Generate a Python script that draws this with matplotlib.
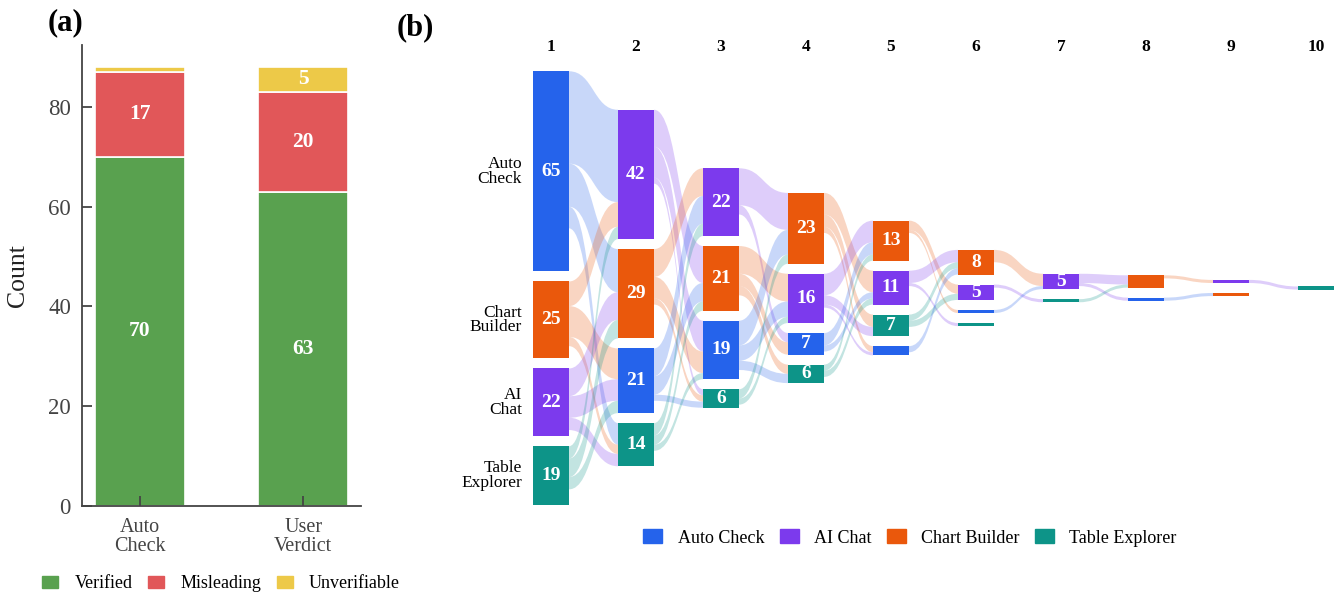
import matplotlib
matplotlib.use("Agg")
import matplotlib.pyplot as plt
from matplotlib.path import Path
from matplotlib.patches import PathPatch, Rectangle, Patch

plt.rcParams['font.family'] = ['Liberation Serif', 'DejaVu Serif']

# ---------------- data: panel (a) ----------------
verdict_sources = ["Auto\nCheck", "User\nVerdict"]
verified = [70, 63]
misleading = [17, 20]
unverifiable = [1, 5]
verdict_labels = ["Verified", "Misleading", "Unverifiable"]
verdict_colors = ["#59A14F", "#E15759", "#EDC948"]

# ---------------- data: panel (b) ----------------
tools = ["Auto Check", "AI Chat", "Chart Builder", "Table Explorer"]
tool_colors = {"Auto Check": "#2563EB", "AI Chat": "#7C3AED",
               "Chart Builder": "#EA580C", "Table Explorer": "#0D9488"}
tool_short = {"Auto Check": "Auto\nCheck", "AI Chat": "AI\nChat",
              "Chart Builder": "Chart\nBuilder", "Table Explorer": "Table\nExplorer"}

step_numbers = [1, 2, 3, 4, 5, 6, 7, 8, 9, 10]
step1 = [("Auto Check", 65), ("Chart Builder", 25), ("AI Chat", 22), ("Table Explorer", 19)]
step2 = [("AI Chat", 42), ("Chart Builder", 29), ("Auto Check", 21), ("Table Explorer", 14)]
step3 = [("AI Chat", 22), ("Chart Builder", 21), ("Auto Check", 19), ("Table Explorer", 6)]
step4 = [("Chart Builder", 23), ("AI Chat", 16), ("Auto Check", 7), ("Table Explorer", 6)]
step5 = [("Chart Builder", 13), ("AI Chat", 11), ("Table Explorer", 7), ("Auto Check", 3)]
step6 = [("Chart Builder", 8), ("AI Chat", 5), ("Auto Check", 1), ("Table Explorer", 1)]
step7 = [("AI Chat", 5), ("Table Explorer", 1)]
step8 = [("Chart Builder", 4), ("Auto Check", 1)]
step9 = [("AI Chat", 1), ("Chart Builder", 1)]
step10 = [("Table Explorer", 1)]
steps = [step1, step2, step3, step4, step5, step6, step7, step8, step9, step10]

# transitions (source tool -> target tool, count) between consecutive steps
flows_1_2 = [("Auto Check", "AI Chat", 30), ("Auto Check", "Chart Builder", 14), ("Auto Check", "Table Explorer", 7),
             ("Chart Builder", "AI Chat", 8), ("Chart Builder", "Auto Check", 10), ("Chart Builder", "Table Explorer", 3),
             ("AI Chat", "Chart Builder", 9), ("AI Chat", "Auto Check", 7), ("AI Chat", "Table Explorer", 4),
             ("Table Explorer", "AI Chat", 4), ("Table Explorer", "Chart Builder", 6), ("Table Explorer", "Auto Check", 4)]
flows_2_3 = [("AI Chat", "Chart Builder", 12), ("AI Chat", "Auto Check", 10), ("AI Chat", "Table Explorer", 2),
             ("Chart Builder", "AI Chat", 9), ("Chart Builder", "Auto Check", 7), ("Chart Builder", "Table Explorer", 2),
             ("Auto Check", "AI Chat", 9), ("Auto Check", "Chart Builder", 6), ("Auto Check", "Table Explorer", 2),
             ("Table Explorer", "AI Chat", 4), ("Table Explorer", "Chart Builder", 3), ("Table Explorer", "Auto Check", 2)]
flows_3_4 = [("AI Chat", "Chart Builder", 12), ("AI Chat", "Auto Check", 3),
             ("Chart Builder", "AI Chat", 9), ("Chart Builder", "Auto Check", 4), ("Chart Builder", "Table Explorer", 3),
             ("Auto Check", "Chart Builder", 8), ("Auto Check", "AI Chat", 5), ("Auto Check", "Table Explorer", 3),
             ("Table Explorer", "Chart Builder", 3), ("Table Explorer", "AI Chat", 2)]
flows_4_5 = [("Chart Builder", "AI Chat", 7), ("Chart Builder", "Table Explorer", 4), ("Chart Builder", "Auto Check", 2),
             ("AI Chat", "Chart Builder", 7), ("AI Chat", "Table Explorer", 3), ("AI Chat", "Auto Check", 1),
             ("Auto Check", "Chart Builder", 4), ("Auto Check", "AI Chat", 2),
             ("Table Explorer", "Chart Builder", 2), ("Table Explorer", "AI Chat", 2)]
flows_5_6 = [("Chart Builder", "AI Chat", 3), ("Chart Builder", "Auto Check", 1),
             ("AI Chat", "Chart Builder", 4), ("AI Chat", "Table Explorer", 1),
             ("Table Explorer", "Chart Builder", 2), ("Table Explorer", "AI Chat", 2),
             ("Auto Check", "Chart Builder", 2)]
flows_6_7 = [("Chart Builder", "AI Chat", 4), ("AI Chat", "Table Explorer", 1), ("Auto Check", "AI Chat", 1)]
flows_7_8 = [("AI Chat", "Chart Builder", 3), ("AI Chat", "Auto Check", 1), ("Table Explorer", "Chart Builder", 1)]
flows_8_9 = [("Chart Builder", "AI Chat", 1), ("Auto Check", "Chart Builder", 1)]
flows_9_10 = [("AI Chat", "Table Explorer", 1)]
transitions = [flows_1_2, flows_2_3, flows_3_4, flows_4_5, flows_5_6,
               flows_6_7, flows_7_8, flows_8_9, flows_9_10]

# ---------------- figure ----------------
W, H = 1336, 595
fig = plt.figure(figsize=(W / 100, H / 100), dpi=100)

# ---- panel (a)
ax = fig.add_axes([82 / W, (H - 506) / H, (361 - 82) / W, (506 - 45) / H])
xs = list(range(len(verdict_sources)))
bottom = [0] * len(xs)
for vals, lab, col in zip([verified, misleading, unverifiable], verdict_labels, verdict_colors):
    ax.bar(xs, vals, width=0.55, bottom=bottom, color=col, edgecolor="white",
           linewidth=1.2, label=lab)
    for x, v, b in zip(xs, vals, bottom):
        if v >= 3:
            ax.text(x, b + v / 2, str(v), ha="center", va="center", color="white",
                    fontsize=15.5, fontweight="bold")
    bottom = [b + v for b, v in zip(bottom, vals)]
ax.set_xticks(xs)
ax.set_xticklabels(verdict_sources, linespacing=0.95)
ax.set_yticks([0, 20, 40, 60, 80])
for s in ["top", "right"]:
    ax.spines[s].set_visible(False)
for s in ["left", "bottom"]:
    ax.spines[s].set_color("#444444")
    ax.spines[s].set_linewidth(1.3)
ax.tick_params(direction="in", length=7, width=1.3, color="#444444", labelcolor="#444444")
ax.tick_params(axis="x", labelsize=14.5, pad=9)
ax.tick_params(axis="y", labelsize=16.5, pad=8)
ax.set_ylabel("Count", fontsize=18.5, color="#222222", labelpad=14)
handles_a = [Patch(color=c, label=l) for c, l in zip(verdict_colors, verdict_labels)]
fig.legend(handles=handles_a, loc="center", bbox_to_anchor=(221 / W, 1 - 584 / H),
           ncol=3, frameon=False, fontsize=13, handlelength=0.9, handleheight=0.65,
           columnspacing=0.85, handletextpad=0.9)

fig.text(48 / W, 1 - 23 / H, "(a)", fontsize=22, fontweight="bold", ha="left", va="center")
fig.text(397 / W, 1 - 28 / H, "(b)", fontsize=22, fontweight="bold", ha="left", va="center")

# ---- panel (b): sankey
px_per_unit = 3.08
x0_px, col_step_px = 551, 85
axb_left, axb_right, axb_top, axb_bot = 470, 1336, 30, 560
center_px = 288
axb = fig.add_axes([axb_left / W, (H - axb_bot) / H, (axb_right - axb_left) / W, (axb_bot - axb_top) / H])
axb.set_xlim(1 - (x0_px - axb_left) / col_step_px, 1 + (axb_right - x0_px) / col_step_px)
axb.set_ylim(-(axb_bot - center_px) / px_per_unit, (center_px - axb_top) / px_per_unit)
axb.axis("off")

gap = 10 / px_per_unit
half_w = 18 / col_step_px

# node layout
node_pos = []  # per column: dict tool -> (top, bottom)
for ci, nodes in enumerate(steps):
    total = sum(v for _, v in nodes) + gap * (len(nodes) - 1)
    y = total / 2
    pos = {}
    for name, v in nodes:
        pos[name] = (y, y - v)
        y -= v + gap
    node_pos.append(pos)

# flows
for ti, flows in enumerate(transitions):
    src_pos, tgt_pos = node_pos[ti], node_pos[ti + 1]
    src_order = [n for n, _ in steps[ti]]
    tgt_order = [n for n, _ in steps[ti + 1]]
    out_off = {n: src_pos[n][0] for n in src_order}
    in_off = {n: tgt_pos[n][0] for n in tgt_order}
    s_ranges = {}
    for s in src_order:
        for t in tgt_order:
            for (a, b, v) in flows:
                if a == s and b == t:
                    s_ranges[(a, b)] = (out_off[s], out_off[s] - v)
                    out_off[s] -= v
    t_ranges = {}
    for t in tgt_order:
        for s in src_order:
            for (a, b, v) in flows:
                if a == s and b == t:
                    t_ranges[(a, b)] = (in_off[t], in_off[t] - v)
                    in_off[t] -= v
    xs_ = (ti + 1) + half_w
    xt_ = (ti + 2) - half_w
    xm = (xs_ + xt_) / 2
    for (a, b, v) in flows:
        s0, s1 = s_ranges[(a, b)]
        t0, t1 = t_ranges[(a, b)]
        verts = [(xs_, s0), (xm, s0), (xm, t0), (xt_, t0),
                 (xt_, t1), (xm, t1), (xm, s1), (xs_, s1), (xs_, s0)]
        codes = [Path.MOVETO, Path.CURVE4, Path.CURVE4, Path.CURVE4,
                 Path.LINETO, Path.CURVE4, Path.CURVE4, Path.CURVE4, Path.CLOSEPOLY]
        axb.add_patch(PathPatch(Path(verts, codes), facecolor=tool_colors[a],
                                edgecolor="none", alpha=0.25, zorder=1))

# nodes
for ci, nodes in enumerate(steps):
    xc = step_numbers[ci]
    for name, v in nodes:
        top, bot = node_pos[ci][name]
        axb.add_patch(Rectangle((xc - half_w, bot), 2 * half_w, v, facecolor=tool_colors[name],
                                edgecolor="none", zorder=3))
        if v >= 5:
            axb.text(xc, (top + bot) / 2, str(v), ha="center", va="center", color="white",
                     fontsize=14, fontweight="bold", zorder=4)
        if ci == 0:
            axb.text(xc - half_w - 11 / col_step_px, (top + bot) / 2, tool_short[name],
                     ha="right", va="center", fontsize=12.5, linespacing=0.9, zorder=4)
    axb.text(xc, (center_px - 47) / px_per_unit, str(step_numbers[ci]), ha="center", va="center",
             fontsize=12.5, fontweight="bold")

handles_b = [Patch(color=tool_colors[t], label=t) for t in tools]
fig.legend(handles=handles_b, loc="center", bbox_to_anchor=(910 / W, 1 - 538 / H),
           ncol=4, frameon=False, fontsize=13, handlelength=1.05, handleheight=0.8,
           columnspacing=0.85, handletextpad=0.85)

fig.savefig("out.png", dpi=100)
